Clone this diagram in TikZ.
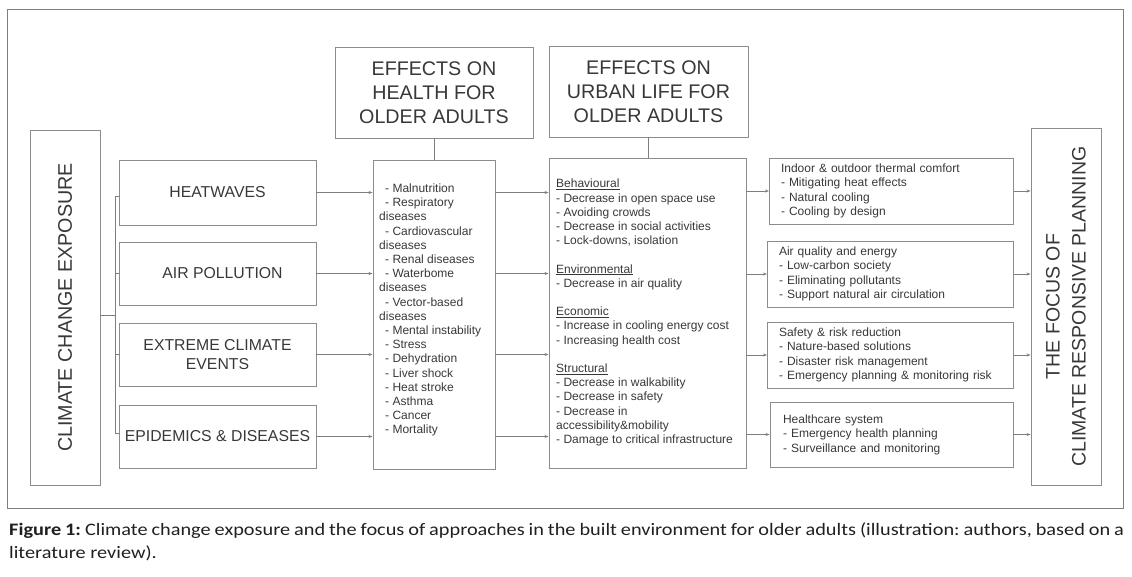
\documentclass[tikz,border=0pt]{standalone}
\usepackage{fontspec}
\setmainfont{Liberation Sans}
\newfontfamily\capfont[FakeStretch=1.16]{Carlito}
\usetikzlibrary{arrows.meta}
\definecolor{boxc}{HTML}{8C8C8C}
\definecolor{linec}{HTML}{7E7E7E}
\definecolor{txt}{HTML}{383838}
\definecolor{captxt}{HTML}{231F20}
\newcommand\hitem{\hspace*{6pt}- }
\begin{document}
\begin{tikzpicture}[x=1pt,y=-1pt,
  box/.style={draw=boxc,line width=0.9pt,inner sep=0pt,text=txt},
  conn/.style={draw=linec,line width=0.8pt},
  arr/.style={conn,-{Stealth[length=4pt,width=3pt]}},
  bigtxt/.style={font=\fontsize{19.7}{24}\selectfont},
  midtxt/.style={font=\fontsize{15.8}{19}\selectfont},
  smalltxt/.style={text=txt,inner sep=0pt,align=left},
  rbox/.style={box,align=left,text width=221pt,inner xsep=11.5pt,font=\fontsize{12}{14.5}\selectfont,minimum height=66pt}
]
\useasboundingbox (0,0) rectangle (1132,576);
\node[draw=boxc!90!black,line width=1pt,minimum width=1116,minimum height=499,inner sep=0pt] (frame) at (565,258.5) {};

% left exposure box
\node[box,bigtxt,rotate=90,minimum width=355,minimum height=70] (cce) at (65,307.5) {CLIMATE CHANGE EXPOSURE};

% hazard boxes
\node[box,midtxt,minimum width=197,minimum height=65] (hw) at (217.5,192.5) {HEATWAVES};
\node[box,midtxt,minimum width=197,minimum height=63] (ap) at (217.5,273.5) {\hspace*{10pt}AIR POLLUTION};
\node[box,midtxt,minimum width=197,minimum height=63,align=center] (ex) at (217.5,354.5) {EXTREME CLIMATE\\EVENTS};
\node[box,midtxt,minimum width=197,minimum height=63] (ep) at (217.5,436.5) {EPIDEMICS \& DISEASES};

% headers
\node[box,bigtxt,minimum width=198,minimum height=91,align=center] (hh) at (434,92.5) {EFFECTS ON\\HEALTH FOR\\OLDER ADULTS};
\node[box,bigtxt,minimum width=199,minimum height=91,align=center] (uh) at (648.5,91.5) {EFFECTS ON\\URBAN LIFE FOR\\OLDER ADULTS};

% list boxes
\node[box,minimum width=122,minimum height=309] (hl) at (434,314.5) {};
\node[box,minimum width=197,minimum height=310] (ul) at (647.5,313) {};

\node[smalltxt,anchor=north west,font=\fontsize{12}{14.2}\selectfont] (hltxt) at (379,183.5) {%
\hitem Malnutrition\\
\hitem Respiratory\\
diseases\\
\hitem Cardiovascular\\
diseases\\
\hitem Renal diseases\\
\hitem Waterbome\\
diseases\\
\hitem Vector-based\\
diseases\\
\hitem Mental instability\\
\hitem Stress\\
\hitem Dehydration\\
\hitem Liver shock\\
\hitem Heat stroke\\
\hitem Asthma\\
\hitem Cancer\\
\hitem Mortality};

\node[smalltxt,anchor=north west,font=\fontsize{12}{14.2}\selectfont] (ultxt) at (556,179) {%
\underline{Behavioural}\\
- Decrease in open space use\\
- Avoiding crowds\\
- Decrease in social activities\\
- Lock-downs, isolation\\[14.2pt]
\underline{Environmental}\\
- Decrease in air quality\\[14.2pt]
\underline{Economic}\\
- Increase in cooling energy cost\\
- Increasing health cost\\[14.2pt]
\underline{Structural}\\
- Decrease in walkability\\
- Decrease in safety\\
- Decrease in\\
accessibility\&mobility\\
- Damage to critical infrastructure};

% right boxes
\node[rbox] (r1) at (891.5,191) {Indoor \& outdoor thermal comfort\\- Mitigating heat effects\\- Natural cooling\\- Cooling by design};
\node[rbox,text width=223pt] (r2) at (890.5,274) {Air quality and energy\\- Low-carbon society\\- Eliminating pollutants\\- Support natural air circulation};
\node[rbox,text width=223pt] (r3) at (890.5,355) {Safety \& risk reduction\\- Nature-based solutions\\- Disaster risk management\\- Emergency planning \& monitoring risk};
\node[rbox,minimum height=65pt,inner xsep=13pt,text width=217pt] (r4) at (891.5,434.5) {Healthcare system\\- Emergency health planning\\- Surveillance and monitoring};

% focus box
\node[box,bigtxt,rotate=90,minimum width=357,minimum height=70,align=center,font=\fontsize{19.5}{26}\selectfont] (fo) at (1066,306.5) {THE FOCUS OF\\CLIMATE RESPONSIVE PLANNING};

% tree from exposure box
\coordinate (t1) at (115,196);
\coordinate (t4) at (115,433);
\coordinate (tj) at (115,315);
\draw[conn] (tj) -- (tj -| cce.south);
\draw[conn] (hw.west |- t1) -- (t1) -- (t4) -- (ep.west |- t4);
\draw[conn] (ap.west) -- (ap.west -| t1);
\draw[conn] (ex.west) -- (ex.west -| t1);

% hazards to health
\foreach \n in {hw,ap,ex,ep} \draw[arr] (\n.east) -- (\n.east -| hl.west);
% health to urban
\foreach \n in {hw,ap,ex,ep} \draw[arr] (\n.east -| hl.east) -- (\n.east -| ul.west);
% urban to right boxes
\foreach \n in {r1,r2,r3,r4} \draw[arr] (\n.west -| ul.east) -- (\n.west);
% right boxes to focus
\foreach \n in {r1,r2,r3,r4} \draw[arr] (\n.east) -- (\n.east -| fo.north);

% header connectors
\draw[conn] (hh.south) -- (hh.south |- hl.north);
\draw[conn] (uh.south) -- (uh.south |- ul.north);

% caption
\node[anchor=north west,inner sep=0pt,text width=1115pt,align=justify,text=captxt,font=\capfont\fontsize{17.5}{23}\selectfont\frenchspacing] (cap) at (9,522) {\textbf{Figure 1:} Climate change exposure and the focus of approaches in the built environment for older adults (illustration: authors, based on a\linebreak literature review).};
\end{tikzpicture}
\end{document}
